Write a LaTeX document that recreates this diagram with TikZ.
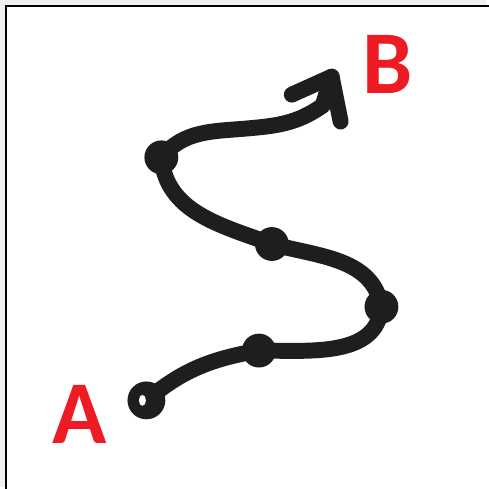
\documentclass[tikz,border=0pt]{standalone}
\usepackage{fontspec}
\usepackage{xcolor}
\newfontfamily\lblfont{Carlito}
\definecolor{ink}{RGB}{30,30,30}
\definecolor{lblred}{RGB}{237,28,36}
\definecolor{outer}{RGB}{240,240,240}

\begin{document}
\begin{tikzpicture}[x=1pt, y=-1pt, dot/.style={circle, fill=ink, inner sep=0pt, minimum size=34pt}, lbl/.style={text=lblred, font=\lblfont\bfseries\fontsize{90}{90}\selectfont, inner sep=0pt}, stroke/.style={draw=ink, line width=16pt, line cap=round, line join=round}]
% Frame
\fill[outer] (0,0) rectangle (488,489);
\fill[white] (7,7) rectangle (490,491);
\useasboundingbox (0,0) rectangle (488,489);
\draw[black, line width=2pt] (6,495) -- (6,6) -- (495,6);

% Points
\node[circle, fill=ink, inner sep=0pt, minimum size=38pt] (s) at (147,402) {};
\node[dot] (d1) at (260,352) {};
\node[dot] (d2) at (383,308) {};
\node[dot] (d3) at (273,245) {};
\node[dot] (d4) at (162,158) {};
\coordinate (m1) at (248,129);
\coordinate (m2) at (324,106);
\coordinate (tip) at (333,77);
\coordinate (wl) at (293,95);
\coordinate (wr) at (342,122);

%Lines
\draw[stroke] (s.center) to[out=40, in=190] (d1.center);
\draw[stroke] (d1.center) to[out=0, in=-95] (d2.center);
\draw[stroke] (d2.center) to[out=100, in=-15] (d3.center);
\draw[stroke] (d3.center) to[out=160, in=-85] (d4.center);
\draw[stroke] (d4.center) to[out=50, in=185] (m1) to[out=5, in=215] (m2) -- (tip);
\draw[stroke] (wl) -- (tip) -- (wr);
\fill[white] (143,402) ellipse (3.5 and 5.5);

% Labels
\node[lbl] (la) at (80,416) {A};
\node[lbl] (lb) at (389,65) {B};
\end{tikzpicture}
\end{document}
